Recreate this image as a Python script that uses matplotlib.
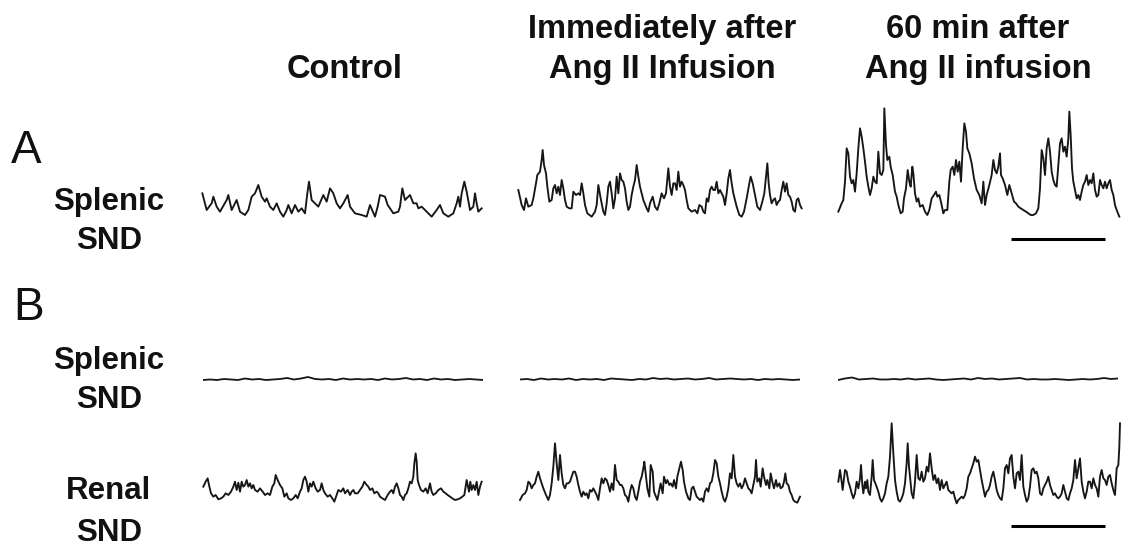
import numpy as np
import matplotlib

matplotlib.use("Agg")
import matplotlib.pyplot as plt
import matplotlib.transforms as mtransforms

# Nerve recordings, sampled off the chart: t = chart position, d = pen deflection
# (chart units, larger d = further down the paper)

# A: splenic SND
spl_ctrl_t = [22, 35, 50, 55, 65, 75, 95, 100, 110, 125, 135, 150, 160, 170, 180, 190, 200, 210, 215, 225,
              235, 245, 255, 265, 275, 280, 290, 300, 310, 320, 330, 337, 342, 350, 360, 370, 385, 395, 405, 415,
              425, 435, 445, 458, 465, 480, 500, 515, 525, 540, 548, 555, 570, 578, 585, 595, 610, 615, 622, 630,
              645, 655, 665, 670, 680, 695, 710, 725, 735, 745, 760, 775, 785, 790, 795, 800, 808, 815, 825, 835,
              840, 845, 850, 860]
spl_ctrl_d = [70, 120, 100, 80, 110, 125, 90, 75, 120, 90, 125, 135, 120, 80, 70, 45, 80, 95, 85, 110,
              120, 100, 125, 140, 120, 105, 130, 105, 125, 115, 130, 70, 35, 90, 100, 110, 75, 95, 55, 70,
              100, 115, 100, 75, 110, 130, 135, 140, 105, 140, 110, 75, 80, 105, 115, 130, 125, 110, 55, 90,
              75, 100, 100, 115, 110, 125, 140, 120, 105, 130, 140, 130, 100, 80, 110, 70, 35, 65, 120, 110,
              70, 100, 125, 115]

spl_imm_t = [25, 35, 42, 48, 55, 65, 70, 78, 82, 90, 95, 98, 102, 108, 112, 118, 125, 130, 135, 140,
             145, 150, 155, 160, 165, 170, 178, 185, 190, 198, 205, 210, 215, 220, 225, 232, 245, 255, 260, 265,
             272, 280, 285, 290, 295, 300, 305, 310, 315, 320, 325, 330, 335, 340, 345, 350, 355, 360, 365, 370,
             375, 380, 385, 390, 400, 410, 415, 420, 428, 435, 442, 448, 455, 462, 468, 475, 480, 485, 490, 495,
             500, 505, 510, 515, 520, 525, 530, 535, 540, 545, 555, 562, 568, 575, 580, 585, 590, 595, 600, 605,
             610, 615, 620, 625, 630, 640, 645, 650, 655, 660, 665, 670, 675, 680, 688, 695, 702, 710, 718, 722,
             728, 735, 742, 750, 757, 763, 768, 772, 776, 780, 785, 790, 795, 800, 805, 810, 815, 820, 825, 830,
             835, 840, 845, 850, 855, 860, 865, 870, 875]
spl_imm_d = [150, 195, 210, 175, 200, 195, 175, 130, 105, 95, 60, 30, 75, 100, 140, 185, 180, 145, 135, 160,
             140, 165, 120, 145, 180, 200, 205, 205, 155, 165, 160, 165, 130, 160, 195, 220, 230, 215, 195, 135,
             175, 215, 225, 190, 140, 125, 160, 205, 175, 110, 160, 100, 120, 125, 145, 185, 210, 200, 165, 140,
             120, 75, 110, 140, 180, 205, 215, 190, 170, 200, 210, 190, 160, 175, 160, 85, 140, 165, 130, 130,
             150, 95, 140, 125, 135, 150, 180, 205, 210, 215, 210, 220, 195, 200, 215, 220, 175, 185, 150, 140,
             150, 150, 125, 160, 150, 170, 195, 160, 115, 90, 130, 160, 180, 200, 225, 230, 215, 175, 130, 110,
             130, 165, 200, 210, 185, 160, 110, 70, 130, 165, 190, 180, 175, 195, 185, 180, 150, 125, 155, 130,
             165, 170, 185, 210, 215, 180, 175, 195, 205]

spl_60_t = [25, 35, 40, 45, 50, 55, 60, 65, 70, 75, 80, 85, 90, 95, 100, 105, 110, 115, 120, 125,
            130, 135, 140, 145, 150, 155, 160, 163, 168, 172, 178, 182, 188, 195, 200, 205, 212, 218, 222, 228,
            233, 238, 242, 247, 250, 255, 260, 265, 270, 278, 285, 292, 298, 305, 312, 318, 322, 328, 335, 340,
            345, 352, 358, 362, 368, 373, 378, 383, 388, 393, 398, 403, 408, 412, 418, 425, 432, 440, 448, 455,
            460, 465, 470, 478, 485, 490, 495, 500, 505, 510, 513, 518, 525, 532, 538, 545, 552, 558, 565, 572,
            580, 588, 595, 602, 610, 618, 625, 630, 635, 640, 645, 650, 655, 660, 665, 670, 675, 680, 685, 690,
            695, 700, 705, 710, 715, 718, 722, 726, 730, 735, 740, 745, 750, 755, 760, 765, 770, 775, 780, 785,
            790, 795, 800, 805, 810, 815, 820, 825, 830, 835, 840, 845, 850, 855, 860, 868]
spl_60_d = [350, 325, 315, 260, 160, 175, 245, 265, 255, 290, 235, 160, 100, 125, 160, 200, 245, 275, 300, 280,
            245, 260, 265, 170, 235, 240, 225, 40, 150, 195, 185, 215, 240, 290, 305, 330, 355, 350, 310, 280,
            225, 260, 275, 215, 235, 295, 320, 310, 335, 330, 350, 360, 345, 310, 300, 290, 305, 300, 330, 355,
            345, 345, 260, 225, 215, 240, 195, 230, 200, 260, 160, 85, 110, 160, 175, 205, 250, 285, 300, 325,
            260, 330, 300, 270, 240, 195, 225, 235, 215, 175, 240, 250, 270, 300, 270, 295, 320, 325, 335, 340,
            345, 350, 355, 360, 360, 355, 340, 280, 165, 190, 240, 160, 130, 170, 230, 255, 270, 275, 210, 145,
            130, 170, 155, 185, 130, 50, 120, 220, 260, 285, 310, 300, 315, 290, 270, 260, 240, 270, 255, 265,
            235, 285, 305, 300, 255, 270, 280, 260, 280, 265, 255, 285, 300, 330, 345, 365]

# B: splenic SND (near-flat) for the three periods
flat_t = list(range(0, 281, 7))
flat_ctrl_v = [0, 0.5, 0, 1, 0.5, 0, 1.5, 0.5, 1, 0, 0.5, 1, 2, 0.5, 1.5, 3, 1, 0.5, 1, 0, 1.5,
               0.5, 1, 0.5, 1, 0, 1.5, 0.5, 1, 2, 0.5, 1, 0, 1.5, 0.5, 1, 0, 0.5, 1, 0.5, 0]
flat_imm_v = [0.5, 1, 0, 1.5, 0.5, 1, 0.5, 1.5, 0, 1, 0.5, 1, 0, 1.5, 1, 0.5, 0, 1, 0.5, 2, 1,
              1.5, 0.5, 1, 1.5, 0.5, 1, 2, 0.5, 1, 1.5, 1, 0.5, 1, 0, 1, 0.5, 1, 0.5, 0, 0.5]
flat_60_v = [0, 1.5, 2.5, 0.5, 1, 1.5, 0.5, 0.5, 1, 0.5, 1.5, 0.5, 1, 1.5, 0.5, 0, 0.5, 1, 1.5, 0.5, 2,
             1, 1.5, 0.5, 1, 1.5, 2, 0.5, 1, 0.5, 0.5, 1, 0.5, 0, 0.5, 1, 0.5, 1, 2, 1, 1.5]

# B: renal SND
ren_ctrl_t = [25, 32, 38, 42, 48, 55, 62, 70, 78, 85, 92, 100, 108, 115, 120, 125, 130, 135, 140, 145,
              150, 155, 160, 165, 170, 175, 180, 188, 195, 203, 210, 218, 225, 232, 238, 242, 248, 255, 262, 268,
              275, 280, 288, 295, 302, 308, 315, 320, 325, 330, 335, 340, 345, 350, 355, 362, 368, 375, 380, 385,
              390, 398, 405, 412, 418, 425, 430, 438, 445, 450, 458, 465, 470, 475, 480, 488, 495, 502, 508, 515,
              520, 525, 532, 538, 545, 550, 555, 562, 570, 578, 585, 590, 595, 600, 605, 610, 615, 620, 625, 630,
              635, 640, 645, 650, 655, 658, 662, 665, 668, 672, 678, 685, 692, 698, 705, 710, 715, 722, 730, 738,
              745, 752, 758, 765, 772, 780, 788, 795, 802, 808, 812, 815, 818, 822, 826, 830, 835, 840, 845, 850,
              855, 860]
ren_ctrl_d = [140, 125, 115, 135, 160, 170, 165, 178, 175, 170, 160, 165, 155, 140, 125, 150, 128, 155, 125, 140,
              135, 120, 140, 130, 145, 135, 150, 155, 145, 155, 165, 160, 165, 140, 130, 105, 120, 135, 145, 170,
              160, 175, 180, 175, 165, 175, 155, 145, 120, 110, 125, 155, 130, 140, 125, 145, 155, 150, 130, 150,
              160, 170, 165, 175, 185, 165, 150, 155, 145, 160, 150, 165, 155, 150, 160, 160, 150, 140, 125, 135,
              140, 150, 145, 160, 155, 160, 170, 175, 180, 165, 155, 150, 160, 140, 130, 145, 165, 170, 180, 165,
              160, 145, 125, 130, 110, 70, 40, 65, 120, 135, 150, 155, 145, 160, 130, 155, 165, 160, 150, 145,
              155, 160, 165, 170, 175, 180, 178, 175, 170, 165, 140, 120, 135, 155, 125, 150, 135, 150, 125, 165,
              140, 125]

ren_imm_t = [30, 38, 45, 50, 55, 60, 65, 70, 75, 80, 85, 90, 95, 100, 108, 115, 120, 125, 130, 135,
             140, 145, 150, 155, 160, 165, 170, 175, 180, 185, 190, 195, 200, 205, 210, 215, 220, 225, 230, 235,
             240, 245, 250, 255, 260, 265, 270, 275, 280, 285, 290, 295, 300, 305, 310, 315, 320, 325, 330, 335,
             340, 345, 350, 355, 360, 365, 370, 375, 380, 385, 390, 395, 400, 403, 408, 412, 418, 422, 428, 432,
             438, 442, 448, 452, 458, 462, 468, 472, 478, 482, 488, 492, 498, 502, 508, 513, 518, 522, 528, 535,
             540, 545, 550, 555, 560, 565, 570, 575, 580, 585, 590, 595, 600, 605, 610, 615, 620, 625, 630, 635,
             640, 645, 650, 655, 660, 665, 670, 675, 680, 685, 690, 695, 700, 705, 710, 715, 720, 725, 730, 735,
             738, 742, 748, 752, 758, 762, 768, 772, 778, 782, 788, 792, 798, 802, 808, 812, 818, 822, 826, 830,
             835, 840, 845, 850, 855, 862, 870]
ren_imm_d = [210, 195, 190, 180, 155, 160, 175, 165, 160, 140, 125, 145, 160, 175, 195, 210, 195, 160, 110, 40,
             100, 150, 75, 130, 165, 175, 160, 160, 155, 140, 125, 125, 140, 165, 185, 200, 185, 195, 190, 205,
             180, 185, 175, 185, 195, 210, 175, 145, 160, 145, 150, 165, 185, 160, 180, 105, 150, 155, 165, 165,
             175, 195, 200, 215, 185, 165, 175, 200, 210, 185, 155, 140, 115, 95, 140, 175, 200, 105, 125, 185,
             200, 210, 180, 160, 190, 140, 160, 150, 165, 160, 170, 150, 175, 140, 115, 95, 120, 155, 185, 205,
             210, 175, 170, 185, 200, 205, 210, 205, 215, 185, 175, 185, 160, 155, 130, 90, 100, 140, 160, 185,
             205, 215, 200, 175, 130, 145, 75, 140, 160, 170, 160, 175, 165, 145, 160, 175, 180, 190, 165, 140,
             90, 155, 145, 170, 115, 140, 165, 150, 175, 130, 160, 175, 150, 170, 160, 175, 170, 155, 130, 160,
             165, 185, 195, 210, 215, 218, 200]

ren_60_t = [25, 30, 35, 38, 42, 45, 50, 55, 60, 65, 70, 75, 80, 85, 90, 93, 97, 100, 105, 108,
            112, 115, 120, 125, 128, 132, 138, 145, 150, 155, 160, 165, 170, 175, 180, 185, 190, 195, 200, 205,
            210, 215, 220, 225, 230, 233, 237, 240, 245, 250, 255, 260, 265, 270, 275, 280, 285, 290, 295, 300,
            305, 310, 315, 320, 325, 330, 335, 340, 345, 350, 355, 360, 365, 370, 375, 380, 385, 390, 395, 400,
            405, 410, 415, 420, 425, 430, 435, 440, 445, 450, 455, 460, 465, 470, 475, 480, 485, 490, 495, 500,
            505, 510, 515, 520, 525, 530, 535, 540, 545, 550, 555, 560, 565, 570, 575, 580, 585, 590, 595, 600,
            605, 610, 615, 620, 625, 630, 635, 640, 645, 650, 655, 660, 665, 670, 675, 680, 685, 690, 695, 700,
            705, 710, 715, 720, 725, 730, 735, 740, 745, 750, 755, 760, 765, 770, 775, 780, 785, 790, 795, 800,
            805, 810, 815, 820, 825, 830, 835, 840, 845, 850, 855, 860, 865, 868, 870]
ren_60_d = [215, 180, 215, 240, 205, 180, 185, 215, 230, 250, 265, 250, 215, 235, 205, 165, 225, 250, 215, 235,
            210, 245, 255, 200, 150, 210, 225, 245, 265, 275, 265, 250, 220, 200, 140, 40, 130, 210, 245, 270,
            275, 265, 250, 220, 160, 100, 170, 200, 250, 265, 215, 135, 205, 210, 185, 215, 205, 170, 185, 130,
            175, 210, 195, 220, 205, 240, 210, 235, 225, 215, 240, 245, 250, 245, 265, 280, 270, 265, 260, 265,
            255, 235, 200, 190, 175, 160, 140, 155, 150, 180, 210, 235, 260, 245, 240, 225, 200, 185, 210, 240,
            255, 265, 270, 235, 175, 165, 190, 145, 135, 200, 235, 190, 185, 210, 135, 230, 255, 275, 265, 230,
            180, 175, 190, 185, 205, 250, 255, 235, 225, 215, 200, 225, 240, 255, 250, 260, 265, 260, 250, 225,
            245, 265, 270, 250, 235, 210, 150, 205, 175, 145, 215, 245, 265, 245, 215, 215, 235, 205, 225, 235,
            260, 200, 180, 205, 210, 225, 200, 195, 220, 240, 255, 175, 165, 110, 40]

# chart length of the time-scale bar
scale_bar_len = 283

W, H = 1121, 546
TRACE_COLOR = "#161616"

plt.rcParams["font.family"] = ["Liberation Sans", "DejaVu Sans"]
fig = plt.figure(figsize=(W / 100, H / 100), dpi=100)


def panel(x0, y0, w, h):
    # axes placed by pixel box (top-left origin)
    ax = fig.add_axes([x0 / W, 1 - (y0 + h) / H, w / W, h / H])
    ax.set_axis_off()
    return ax


def trace(box, t, d):
    x0, y0, w, h = box
    ax = panel(*box)
    ax.plot(t, d, color=TRACE_COLOR, lw=1.35, solid_joinstyle="round")
    ax.set_xlim(0, 3 * w)
    ax.set_ylim(3 * h, 0)
    return ax


def flat(x0, v):
    ax = panel(x0, 370, 280, 20)
    ax.plot(flat_t, v, color=TRACE_COLOR, lw=1.3)
    ax.set_xlim(0, 280)
    ax.set_ylim(-10, 10)
    return ax


def scale_bar(ax, t_end, y_frac):
    tr = mtransforms.blended_transform_factory(ax.transData, ax.transAxes)
    ax.plot([t_end - scale_bar_len, t_end], [y_frac, y_frac], color="black",
            lw=2.2, transform=tr, clip_on=False, solid_capstyle="butt")


# row A
trace((195, 170, 300, 60), spl_ctrl_t, spl_ctrl_d)
trace((510, 140, 300, 90), spl_imm_t, spl_imm_d)
ax_a3 = trace((830, 95, 291, 150), spl_60_t, spl_60_d)
scale_bar(ax_a3, spl_60_t[-1] - 42, 1 - 432 / 450)

# row B
flat(203, flat_ctrl_v)
flat(520, flat_imm_v)
flat(838, flat_60_v)
trace((195, 440, 300, 70), ren_ctrl_t, ren_ctrl_d)
trace((510, 430, 300, 80), ren_imm_t, ren_imm_d)
ax_b3 = trace((830, 410, 291, 120), ren_60_t, ren_60_d)
scale_bar(ax_b3, ren_60_t[-1] - 45, 1 - 348 / 360)


def txt(x, y, s, **kw):
    fig.text(x / W, 1 - y / H, s, va="baseline", **kw)


head = dict(ha="center", fontsize=23.5, fontweight="bold", color="#111111")
txt(345, 78, "Control", **head)
txt(662, 38, "Immediately after", **head)
txt(662, 78, "Ang II Infusion", **head)
txt(978, 38, "60 min after", **head)
txt(978, 78, "Ang II infusion", **head)

panel_lbl = dict(ha="left", fontsize=33, color="#111111")
txt(11, 163, "A", **panel_lbl)
txt(13, 320, "B", **panel_lbl)

row_lbl = dict(ha="center", fontsize=22.5, fontweight="bold", color="#111111")
txt(109, 210, "Splenic", **row_lbl)
txt(109, 249, "SND", **row_lbl)
txt(109, 369, "Splenic", **row_lbl)
txt(109, 408, "SND", **row_lbl)
txt(109, 499, "Renal", **row_lbl)
txt(109, 541, "SND", **row_lbl)

fig.savefig("out.png", dpi=100, facecolor="white")
